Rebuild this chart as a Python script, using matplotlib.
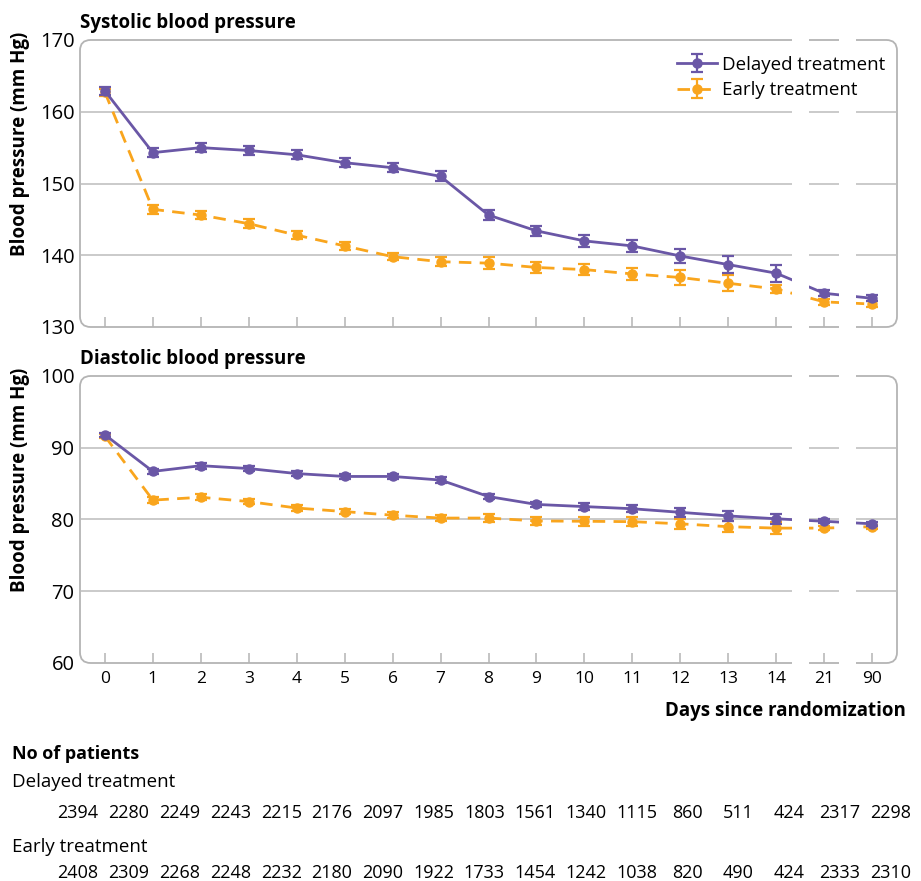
import numpy as np
import matplotlib.pyplot as plt
from matplotlib.patches import FancyBboxPatch, Rectangle
import matplotlib.transforms as mtransforms

plt.rcParams['font.family'] = ['Open Sans', 'DejaVu Sans']

# data
days = ['0', '1', '2', '3', '4', '5', '6', '7', '8', '9', '10', '11', '12', '13', '14', '21', '90']

sys_delayed = [162.9, 154.3, 155.0, 154.6, 154.0, 152.9, 152.2, 151.0, 145.6, 143.4, 142.0, 141.3, 139.9, 138.7, 137.5, 134.7, 134.0]
sys_delayed_err = [0.5, 0.6, 0.6, 0.6, 0.6, 0.6, 0.6, 0.7, 0.7, 0.7, 0.8, 0.8, 1.0, 1.2, 1.2, 0.4, 0.4]
sys_early = [162.7, 146.4, 145.6, 144.4, 142.8, 141.3, 139.8, 139.1, 138.9, 138.3, 138.0, 137.4, 136.9, 136.1, 135.3, 133.5, 133.2]
sys_early_err = [0.5, 0.6, 0.6, 0.6, 0.6, 0.6, 0.5, 0.6, 0.8, 0.8, 0.8, 0.8, 1.0, 1.1, 0.6, 0.4, 0.4]

dia_delayed = [91.8, 86.7, 87.5, 87.1, 86.4, 86.0, 86.0, 85.5, 83.2, 82.1, 81.8, 81.5, 81.0, 80.5, 80.1, 79.75, 79.4]
dia_delayed_err = [0.3, 0.4, 0.4, 0.4, 0.4, 0.4, 0.4, 0.4, 0.4, 0.4, 0.5, 0.5, 0.6, 0.7, 0.7, 0.3, 0.3]
dia_early = [91.6, 82.7, 83.1, 82.5, 81.6, 81.1, 80.6, 80.2, 80.2, 79.8, 79.75, 79.7, 79.4, 79.0, 78.8, 78.8, 79.0]
dia_early_err = [0.3, 0.4, 0.4, 0.4, 0.4, 0.4, 0.4, 0.4, 0.5, 0.5, 0.6, 0.6, 0.7, 0.8, 0.8, 0.3, 0.3]

n_delayed = [2394, 2280, 2249, 2243, 2215, 2176, 2097, 1985, 1803, 1561, 1340, 1115, 860, 511, 424, 2317, 2298]
n_early = [2408, 2309, 2268, 2248, 2232, 2180, 2090, 1922, 1733, 1454, 1242, 1038, 820, 490, 424, 2333, 2310]

purple = '#6a57a6'
orange = '#f9a51d'
frame_col = '#b4b4b4'
grid_col = '#bcbcbc'

W, H = 921, 881
fig = plt.figure(figsize=(W / 100, H / 100), dpi=100)

x = np.arange(len(days))


def panel(top_px, ylim, yticks, delayed, delayed_err, early, early_err, title, show_x, legend):
    bottom_px = top_px + 287
    ax = fig.add_axes([80 / W, 1 - bottom_px / H, 817 / W, 287 / H])
    ax.set_xlim(-0.52, 16.52)
    ax.set_ylim(*ylim)
    for s in ax.spines.values():
        s.set_visible(False)
    # rounded frame
    asp = 817 / 287
    box = FancyBboxPatch((0, 0), 1, 1, boxstyle='round,pad=0,rounding_size=0.013',
                         mutation_aspect=asp, transform=ax.transAxes, fill=False,
                         edgecolor=frame_col, lw=1.3, clip_on=False, zorder=1)
    ax.add_patch(box)
    for yv in yticks[1:-1]:
        ax.axhline(yv, color=grid_col, lw=1.1, zorder=1)
    ax.set_yticks(yticks)
    ax.tick_params(axis='y', length=0, labelsize=14.5, pad=4)
    ax.set_xticks(x)
    ax.tick_params(axis='x', direction='in', length=7, color=frame_col, width=1.1,
                   labelsize=12.5, pad=6)
    if show_x:
        ax.set_xticklabels(days)
    else:
        ax.set_xticklabels([])

    ax.errorbar(x, delayed, yerr=delayed_err, color=purple, lw=2, marker='o', ms=6.5,
                capsize=4, elinewidth=1.6, capthick=1.6, label='Delayed treatment', zorder=4)
    ax.errorbar(x, early, yerr=early_err, color=orange, lw=2, ls=(0, (4.5, 3)), marker='o', ms=6.5,
                capsize=4, elinewidth=1.6, capthick=1.6, label='Early treatment', zorder=3)

    # axis breaks
    trans = mtransforms.blended_transform_factory(ax.transData, ax.transAxes)
    for x0 in (14.33, 15.31):
        ax.add_patch(Rectangle((x0, -0.03), 0.36, 1.06, transform=trans, facecolor='white',
                               edgecolor='none', clip_on=False, zorder=6))

    ax.text(0, 1.0 + 17 / 287, title, transform=ax.transAxes, fontsize=13.5, fontweight='bold',
            va='center', ha='left')
    fig.text(20 / W, 1 - (top_px - 8) / H, 'Blood pressure (mm Hg)', rotation=90, fontsize=13.5,
             fontweight='bold', ha='center', va='top')
    if legend:
        leg = ax.legend(loc='upper right', frameon=False, fontsize=13.5, handlelength=2.1,
                        handletextpad=0.3, labelspacing=0.42, borderaxespad=0.0,
                        bbox_to_anchor=(0.995, 0.972))
        leg.set_zorder(10)
    return ax


panel(40, (130, 170), [130, 140, 150, 160, 170], sys_delayed, sys_delayed_err,
      sys_early, sys_early_err, 'Systolic blood pressure', False, True)
panel(376, (60, 100), [60, 70, 80, 90, 100], dia_delayed, dia_delayed_err,
      dia_early, dia_early_err, 'Diastolic blood pressure', True, False)

fig.text(906 / W, 1 - 711 / H, 'Days since randomization', fontsize=13.5, fontweight='bold',
         ha='right', va='center')

# number at risk table
fig.text(12 / W, 1 - 759 / H, 'No of patients', fontsize=13, fontweight='bold', va='baseline')
fig.text(12 / W, 1 - 787 / H, 'Delayed treatment', fontsize=13.5, va='baseline')
fig.text(12 / W, 1 - 852 / H, 'Early treatment', fontsize=13.5, va='baseline')
for i in range(len(days)):
    cx = (78 + 50.8 * i) / W
    fig.text(cx, 1 - 818 / H, str(n_delayed[i]), fontsize=13, ha='center', va='baseline')
    fig.text(cx, 1 - 878 / H, str(n_early[i]), fontsize=13, ha='center', va='baseline')

fig.savefig('out.png', dpi=100)
